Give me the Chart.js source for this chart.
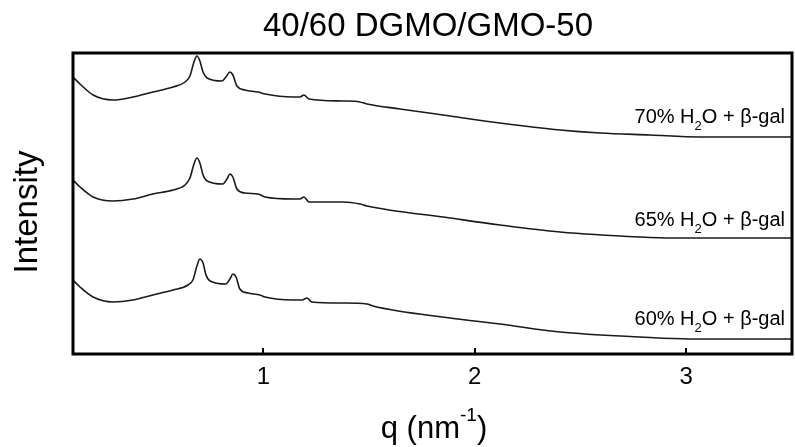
<!DOCTYPE html>
<html>
<head>
<meta charset="utf-8">
<script src="https://cdn.jsdelivr.net/npm/chart.js@4"></script>
<style>
  html, body { margin: 0; padding: 0; background: #fff; }
</style>
</head>
<body>
<canvas id="chart" width="795" height="447"></canvas>
<script>
// 40/60 DGMO/GMO-50 — SAXS profiles, curves offset vertically (arbitrary units)
const qTicks = [1, 2, 3];

// 70% H2O + beta-gal (top curve)
const q70 = [0.100, 0.133, 0.195, 0.289, 0.384, 0.478, 0.573, 0.630, 0.653, 0.672, 0.686, 0.700, 0.715, 0.734,
  0.804, 0.823, 0.842, 0.856, 0.875, 0.913, 0.975, 1.008, 1.140, 1.173, 1.192, 1.216, 1.377, 1.457, 1.490,
  1.646, 1.883, 2.119, 2.403, 2.592, 2.828, 3.065, 3.500];
const i70 = [277, 270, 259, 254, 257, 262, 267, 272, 278, 292, 298, 293, 282, 276,
  273, 277, 282, 279, 268, 264, 262, 260, 257, 257, 259, 255, 253, 252, 250,
  245, 238, 231, 224, 221, 219, 217, 217];

// 65% H2O + beta-gal (middle curve)
const q65 = [0.100, 0.133, 0.195, 0.289, 0.384, 0.478, 0.573, 0.630, 0.653, 0.672, 0.686, 0.700, 0.715, 0.734,
  0.809, 0.828, 0.842, 0.856, 0.875, 0.913, 0.975, 1.008, 1.140, 1.173, 1.192, 1.216, 1.377, 1.457, 1.490,
  1.883, 2.119, 2.403, 2.781, 2.937, 3.500];
const i65 = [174, 167, 157, 153, 155, 160, 164, 169, 176, 190, 196, 191, 179, 173,
  170, 175, 180, 177, 165, 161, 160, 157, 155, 155, 157, 152, 152, 150, 148,
  136, 129, 122, 117, 116, 116];

// 60% H2O + beta-gal (bottom curve)
const q60 = [0.100, 0.133, 0.195, 0.289, 0.384, 0.478, 0.573, 0.644, 0.667, 0.686, 0.700, 0.715, 0.729, 0.748,
  0.823, 0.842, 0.856, 0.871, 0.889, 0.927, 0.984, 1.008, 1.140, 1.183, 1.206, 1.230, 1.377, 1.490, 1.518,
  1.883, 2.119, 2.403, 2.781, 3.017, 3.500];
const i60 = [74, 67, 57, 52, 54, 59, 64, 69, 74, 88, 95, 91, 79, 73,
  70, 75, 80, 77, 65, 61, 59, 57, 54, 54, 56, 52, 51, 50, 48,
  36, 30, 22, 17, 15, 15];

// curve labels: [before subscript, subscript, after subscript], and the intensity level they sit at
const curveLabels = [
  ['70% H', '2', 'O + \u03B2-gal'],
  ['65% H', '2', 'O + \u03B2-gal'],
  ['60% H', '2', 'O + \u03B2-gal']
];
const labelLevels = [231, 128, 29];

const FONT = "'Liberation Sans', Arial, sans-serif";

function toPoints(qs, vals) {
  return qs.map(function(q, i) { return { x: q, y: vals[i] }; });
}

function lineSet(label, qs, vals) {
  return {
    label: label,
    data: toPoints(qs, vals),
    borderColor: '#1a1a1a',
    borderWidth: 1.6,
    pointRadius: 0,
    cubicInterpolationMode: 'monotone',
    fill: false
  };
}

// frame, inward ticks, titles and curve labels
const decorations = {
  id: 'decorations',
  afterDraw(chart) {
    const ctx = chart.ctx;
    const a = chart.chartArea;
    const x = chart.scales.x;
    const y = chart.scales.y;
    ctx.save();

    // box frame
    ctx.strokeStyle = '#000';
    ctx.lineWidth = 3;
    ctx.strokeRect(a.left, a.top, a.right - a.left, a.bottom - a.top);

    // inward tick marks
    ctx.lineWidth = 2;
    qTicks.forEach(function(v) {
      const px = Math.round(x.getPixelForValue(v));
      ctx.beginPath();
      ctx.moveTo(px, a.bottom);
      ctx.lineTo(px, a.bottom - 6);
      ctx.stroke();
    });

    ctx.fillStyle = '#000';

    // title
    ctx.font = '33px ' + FONT;
    ctx.textAlign = 'center';
    ctx.textBaseline = 'alphabetic';
    ctx.fillText('40/60 DGMO/GMO-50', 428, 36);

    // y axis title
    ctx.save();
    ctx.translate(37, 212);
    ctx.rotate(-Math.PI / 2);
    ctx.font = '33px ' + FONT;
    ctx.fillText('Intensity', 0, 0);
    ctx.restore();

    // x axis title with superscript
    ctx.textAlign = 'left';
    const big = '31px ' + FONT;
    const small = '19px ' + FONT;
    ctx.font = big;
    const w1 = ctx.measureText('q (nm').width;
    const w3 = ctx.measureText(')').width;
    ctx.font = small;
    const w2 = ctx.measureText('-1').width;
    let sx = 434 - (w1 + w2 + w3) / 2;
    ctx.font = big;
    ctx.fillText('q (nm', sx, 438);
    ctx.font = small;
    ctx.fillText('-1', sx + w1, 421);
    ctx.font = big;
    ctx.fillText(')', sx + w1 + w2, 438);

    // curve labels, right aligned, with subscript
    const rightEdge = a.right - 7;
    curveLabels.forEach(function(parts, i) {
      const base = y.getPixelForValue(labelLevels[i]);
      ctx.font = '20px ' + FONT;
      const wa = ctx.measureText(parts[0]).width;
      const wc = ctx.measureText(parts[2]).width;
      ctx.font = '13px ' + FONT;
      const wb = ctx.measureText(parts[1]).width;
      let lx = rightEdge - (wa + wb + wc);
      ctx.font = '20px ' + FONT;
      ctx.fillText(parts[0], lx, base);
      ctx.font = '13px ' + FONT;
      ctx.fillText(parts[1], lx + wa, base + 7);
      ctx.font = '20px ' + FONT;
      ctx.fillText(parts[2], lx + wa + wb, base);
    });

    ctx.restore();
  }
};

new Chart(document.getElementById('chart').getContext('2d'), {
  type: 'line',
  data: {
    datasets: [
      lineSet('70% H2O + \u03B2-gal', q70, i70),
      lineSet('65% H2O + \u03B2-gal', q65, i65),
      lineSet('60% H2O + \u03B2-gal', q60, i60)
    ]
  },
  options: {
    responsive: false,
    animation: false,
    devicePixelRatio: 1,
    layout: { padding: { left: 73, right: 3, top: 53, bottom: 0 } },
    plugins: {
      legend: { display: false },
      tooltip: { enabled: false }
    },
    scales: {
      x: {
        type: 'linear',
        min: 0.1,
        max: 3.5,
        afterBuildTicks: function(s) { s.ticks = qTicks.map(function(v) { return { value: v }; }); },
        afterFit: function(s) { s.height = 93; },
        grid: { display: false, drawTicks: false },
        border: { display: false },
        ticks: {
          color: '#000',
          padding: 9,
          font: { family: FONT, size: 24 },
          callback: function(v) { return String(v); }
        }
      },
      y: {
        type: 'linear',
        min: 0,
        max: 301,
        display: false
      }
    }
  },
  plugins: [decorations]
});
</script>
</body>
</html>
